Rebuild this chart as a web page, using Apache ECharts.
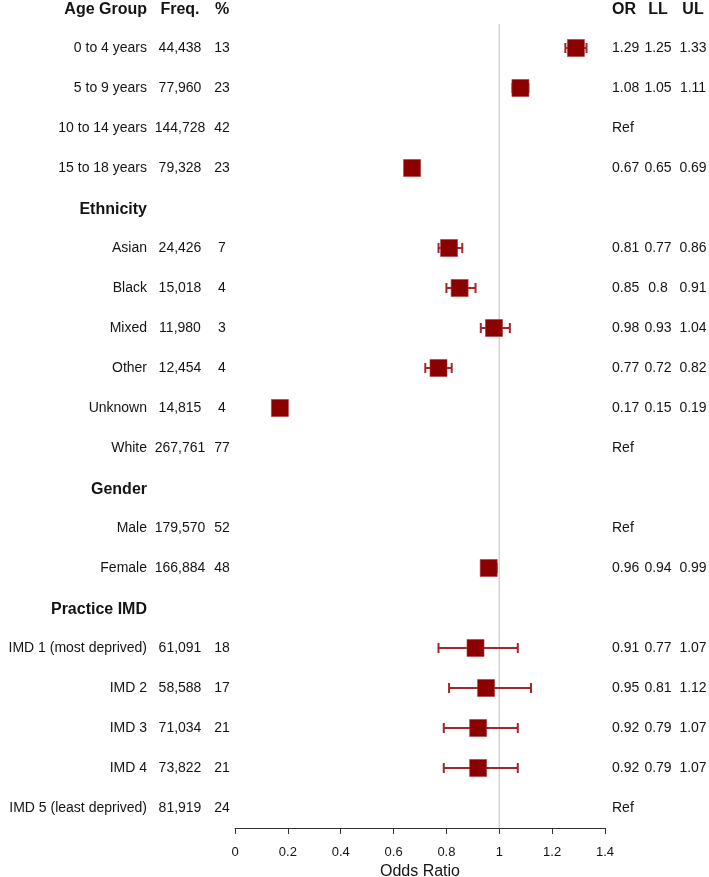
<!DOCTYPE html>
<html>
<head>
<meta charset="utf-8">
<script src="https://cdn.jsdelivr.net/npm/echarts@6/dist/echarts.min.js"></script>
<style>
  html, body { margin: 0; padding: 0; background: #fff; }
  #chart { width: 709px; height: 877px; }
</style>
</head>
<body>
<div id="chart"></div>
<script>
    // rows top to bottom, row 0 is the column header
    const rowLabels = ['Age Group', '0 to 4 years', '5 to 9 years', '10 to 14 years', '15 to 18 years',
        'Ethnicity', 'Asian', 'Black', 'Mixed', 'Other', 'Unknown', 'White',
        'Gender', 'Male', 'Female',
        'Practice IMD', 'IMD 1 (most deprived)', 'IMD 2', 'IMD 3', 'IMD 4', 'IMD 5 (least deprived)']
    const headerRows = [0, 5, 12, 15]
    const refRows = [3, 11, 13, 20]
    const freq = ['Freq.', '44,438', '77,960', '144,728', '79,328',
        '', '24,426', '15,018', '11,980', '12,454', '14,815', '267,761',
        '', '179,570', '166,884',
        '', '61,091', '58,588', '71,034', '73,822', '81,919']
    const pct = ['%', '13', '23', '42', '23',
        '', '7', '4', '3', '4', '4', '77',
        '', '52', '48',
        '', '18', '17', '21', '21', '24']
    const orVal = [null, 1.29, 1.08, null, 0.67,
        null, 0.81, 0.85, 0.98, 0.77, 0.17, null,
        null, null, 0.96,
        null, 0.91, 0.95, 0.92, 0.92, null]
    const llVal = [null, 1.25, 1.05, null, 0.65,
        null, 0.77, 0.80, 0.93, 0.72, 0.15, null,
        null, null, 0.94,
        null, 0.77, 0.81, 0.79, 0.79, null]
    const ulVal = [null, 1.33, 1.11, null, 0.69,
        null, 0.86, 0.91, 1.04, 0.82, 0.19, null,
        null, null, 0.99,
        null, 1.07, 1.12, 1.07, 1.07, null]
    const xTicks = [0, 1.4, 0.2]   // min, max, interval
    const refValue = 1

    const font = "'Liberation Sans', Arial, sans-serif"
    const textColor = '#141414'
    const markColor = '#8b0000'

    let points = []
    let bars = []
    orVal.forEach((v, i) => {
        if (v !== null) {
            points.push([v, i])
            bars.push([llVal[i], ulVal[i], i])
        }
    })
    let rows = rowLabels.map((v, i) => [0, i])
    const yMax = rowLabels.length - 0.5

    function txt(x, y, text, bold, align) {
        return {
            type: 'text',
            x: x,
            y: bold ? y + 1.5 : y,
            style: {
                text: text,
                fill: textColor,
                font: (bold ? 'bold 16px ' : '14px ') + font,
                align: align,
                verticalAlign: 'middle'
            }
        }
    }

    let myChart = echarts.init(document.getElementById('chart'))
    let option = {
        animation: false,
        grid: {
            left: 235,
            right: 104,
            top: 8,
            bottom: 49,
            outerBoundsMode: 'none'
        },
        xAxis: {
            type: 'value',
            position: 'bottom',
            min: xTicks[0],
            max: xTicks[1],
            interval: xTicks[2],
            name: 'Odds Ratio',
            nameLocation: 'middle',
            nameGap: 36,
            nameTextStyle: {
                color: textColor,
                fontSize: 16,
                fontFamily: font
            },
            axisLine: {
                onZero: false,
                lineStyle: {
                    color: '#333',
                    width: 1
                }
            },
            axisTick: {
                length: 6,
                lineStyle: {
                    color: '#333'
                }
            },
            axisLabel: {
                color: textColor,
                fontSize: 13,
                fontFamily: font,
                margin: 18
            },
            splitLine: {
                show: false
            }
        },
        yAxis: {
            type: 'value',
            show: false,
            inverse: true,
            min: 0,
            max: yMax
        },
        series: [{
            type: 'line',
            data: [[refValue, 0.4], [refValue, yMax]],
            symbol: 'none',
            silent: true,
            lineStyle: {
                color: '#d3d3d3',
                width: 1.5
            },
            z: 1
        }, {
            type: 'custom',
            data: bars,
            encode: {x: [0, 1], y: 2},
            renderItem: (params, api) => {
                let a = api.coord([api.value(0), api.value(2)])
                let b = api.coord([api.value(1), api.value(2)])
                let style = {stroke: '#a3262a', lineWidth: 2}
                return {
                    type: 'group',
                    children: [
                        {type: 'line', shape: {x1: a[0], y1: a[1], x2: b[0], y2: b[1]}, style},
                        {type: 'line', shape: {x1: a[0], y1: a[1] - 5, x2: a[0], y2: a[1] + 5}, style},
                        {type: 'line', shape: {x1: b[0], y1: b[1] - 5, x2: b[0], y2: b[1] + 5}, style}
                    ]
                }
            },
            z: 2
        }, {
            type: 'scatter',
            data: points,
            symbol: 'rect',
            symbolSize: 17,
            itemStyle: {
                color: markColor,
                opacity: 1,
                borderColor: '#a8383a',
                borderWidth: 0.6
            },
            z: 3
        }, {
            type: 'custom',
            data: rows,
            clip: false,
            silent: true,
            renderItem: (params, api) => {
                let i = api.value(1)
                let y = api.coord([0, i])[1]
                let head = headerRows.indexOf(i) >= 0
                let children = [txt(147, y, rowLabels[i], head, 'right')]
                if (i === 0) {
                    children.push(txt(180, y, freq[i], true, 'center'))
                    children.push(txt(222, y, pct[i], true, 'center'))
                    children.push(txt(612, y, 'OR', true, 'left'))
                    children.push(txt(658, y, 'LL', true, 'center'))
                    children.push(txt(693, y, 'UL', true, 'center'))
                } else if (!head) {
                    children.push(txt(180, y, freq[i], false, 'center'))
                    children.push(txt(222, y, pct[i], false, 'center'))
                    if (refRows.indexOf(i) >= 0) {
                        children.push(txt(612, y, 'Ref', false, 'left'))
                    } else {
                        children.push(txt(612, y, String(orVal[i]), false, 'left'))
                        children.push(txt(658, y, String(llVal[i]), false, 'center'))
                        children.push(txt(693, y, String(ulVal[i]), false, 'center'))
                    }
                }
                return {type: 'group', children}
            },
            z: 4
        }]
    }
    myChart.setOption(option)
</script>
</body>
</html>
